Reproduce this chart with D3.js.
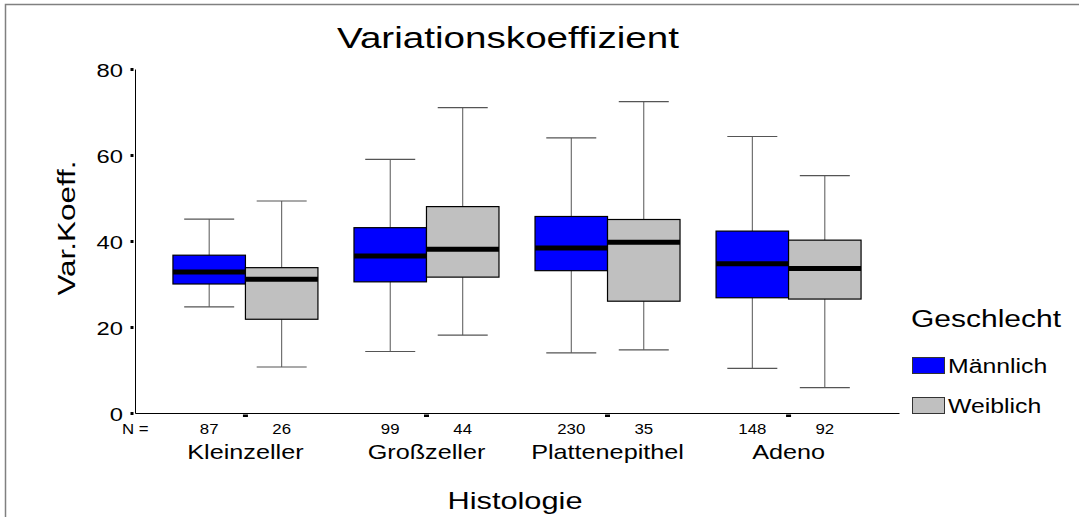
<!DOCTYPE html>
<html>
<head>
<meta charset="utf-8">
<script src="https://cdn.jsdelivr.net/npm/d3@7"></script>
<style>
  body { margin: 0; background: #fff; }
  svg text { font-family: Arial, "Liberation Sans", sans-serif; fill: #000; }
</style>
</head>
<body>
<svg id="chart"></svg>
<script>
"use strict";
// data
const categories = ["Kleinzeller", "Großzeller", "Plattenepithel", "Adeno"];
const groups = ["Männlich", "Weiblich"];
const groupColors = ["#0000ff", "#c0c0c0"];
const yTicks = [0, 20, 40, 60, 80];

const maleN    = [87, 99, 230, 148];
const maleLow  = [24.7, 14.3, 14.0, 10.4];
const maleQ1   = [30.0, 30.5, 33.1, 26.8];
const maleMed  = [32.8, 36.5, 38.4, 34.7];
const maleQ3   = [36.7, 43.1, 45.7, 42.3];
const maleHigh = [45.1, 59.0, 64.0, 64.3];

const femaleN    = [26, 44, 35, 92];
const femaleLow  = [10.7, 18.1, 14.7, 5.9];
const femaleQ1   = [21.8, 31.6, 26.0, 26.5];
const femaleMed  = [31.1, 38.1, 39.7, 33.6];
const femaleQ3   = [33.8, 48.0, 45.0, 40.2];
const femaleHigh = [49.3, 71.0, 72.4, 55.2];

const width = 1079, height = 517;
const plot = {left: 135, right: 899, top: 69, bottom: 413};

// one row per box
const boxes = [];
categories.forEach((c, i) => {
    boxes.push({cat: c, grp: groups[0], n: maleN[i], low: maleLow[i], q1: maleQ1[i],
        med: maleMed[i], q3: maleQ3[i], high: maleHigh[i]});
    boxes.push({cat: c, grp: groups[1], n: femaleN[i], low: femaleLow[i], q1: femaleQ1[i],
        med: femaleMed[i], q3: femaleQ3[i], high: femaleHigh[i]});
});

// the original font is drawn wide: stretch glyphs along the baseline
function stretch(sel, k) {
    sel.each(function() {
        const w = this.getComputedTextLength();
        d3.select(this)
            .attr("textLength", w * k)
            .attr("lengthAdjust", "spacingAndGlyphs");
    });
}

const svg = d3.select("#chart")
    .attr("width", width)
    .attr("height", height);

// outer frame (runs off the right and bottom edge)
svg.append("rect")
    .attr("x", 5.5).attr("y", 4.5)
    .attr("width", 1200).attr("height", 600)
    .attr("fill", "none")
    .attr("stroke", "#808080")
    .attr("stroke-width", 1.5);

const x = d3.scaleBand()
    .domain(categories)
    .range([plot.left, plot.right])
    .paddingInner(0)
    .paddingOuter(0.11);

const xg = d3.scaleBand()
    .domain(groups)
    .range([-72.5, 72.5]);

const color = d3.scaleOrdinal().domain(groups).range(groupColors);

const y = d3.scaleLinear()
    .domain([0, 80])
    .range([plot.bottom, plot.top]);

const cx = d => x(d.cat) + x.bandwidth() / 2 + xg(d.grp) + xg.bandwidth() / 2;

// y axis
const yAxis = svg.append("g")
    .attr("transform", `translate(${plot.left},0)`)
    .call(d3.axisLeft(y).tickValues(yTicks).tickSize(4).tickSizeOuter(0).tickPadding(10));
yAxis.select(".domain").attr("stroke", "#000");
yAxis.selectAll(".tick line")
    .attr("x1", -1.5).attr("x2", -4.5)
    .attr("stroke", "#000").attr("stroke-width", 3);
yAxis.selectAll(".tick text")
    .attr("x", -12)
    .attr("dy", "0.38em")
    .attr("font-family", null)
    .style("font-size", "19px")
    .call(stretch, 1.25);

// x axis
const xAxis = svg.append("g")
    .attr("transform", `translate(0,${plot.bottom})`)
    .call(d3.axisBottom(x).tickSize(3).tickSizeOuter(0));
xAxis.select(".domain").attr("stroke", "#000");
xAxis.selectAll(".tick line")
    .attr("y1", 1.5).attr("y2", 4)
    .attr("stroke", "#000").attr("stroke-width", 5);
xAxis.selectAll(".tick text")
    .attr("y", 46).attr("dy", 0)
    .attr("font-family", null)
    .style("font-size", "21px")
    .call(stretch, 1.2);

// boxes
const bw = xg.bandwidth();
const capW = 50;
const g = svg.append("g").selectAll("g.box")
    .data(boxes)
  .enter().append("g")
    .attr("class", "box");

g.append("line") // upper whisker
    .attr("x1", cx).attr("x2", cx)
    .attr("y1", d => y(d.q3)).attr("y2", d => y(d.high))
    .attr("stroke", "#555");
g.append("line")
    .attr("x1", d => cx(d) - capW / 2).attr("x2", d => cx(d) + capW / 2)
    .attr("y1", d => y(d.high)).attr("y2", d => y(d.high))
    .attr("stroke", "#555").attr("stroke-width", 1.2);
g.append("line") // lower whisker
    .attr("x1", cx).attr("x2", cx)
    .attr("y1", d => y(d.q1)).attr("y2", d => y(d.low))
    .attr("stroke", "#555");
g.append("line")
    .attr("x1", d => cx(d) - capW / 2).attr("x2", d => cx(d) + capW / 2)
    .attr("y1", d => y(d.low)).attr("y2", d => y(d.low))
    .attr("stroke", "#555").attr("stroke-width", 1.2);

g.append("rect")
    .attr("x", d => cx(d) - bw / 2)
    .attr("y", d => y(d.q3))
    .attr("width", bw)
    .attr("height", d => y(d.q1) - y(d.q3))
    .attr("fill", d => color(d.grp))
    .attr("stroke", "#000")
    .attr("stroke-width", 1.2);

g.append("line") // median
    .attr("x1", d => cx(d) - bw / 2).attr("x2", d => cx(d) + bw / 2)
    .attr("y1", d => y(d.med)).attr("y2", d => y(d.med))
    .attr("stroke", "#000").attr("stroke-width", 5);

// N row
svg.append("text")
    .attr("x", 122).attr("y", 434)
    .style("font-size", "14px")
    .text("N =")
    .call(stretch, 1.2);
svg.selectAll("text.n")
    .data(boxes)
  .enter().append("text")
    .attr("class", "n")
    .attr("x", cx)
    .attr("y", 434)
    .attr("text-anchor", "middle")
    .style("font-size", "14px")
    .text(d => d.n)
    .call(stretch, 1.2);

// titles
svg.append("text")
    .attr("x", 508).attr("y", 48)
    .attr("text-anchor", "middle")
    .attr("textLength", 342).attr("lengthAdjust", "spacingAndGlyphs")
    .style("font-size", "29px")
    .text("Variationskoeffizient");

svg.append("text")
    .attr("x", 515).attr("y", 509)
    .attr("text-anchor", "middle")
    .attr("textLength", 135).attr("lengthAdjust", "spacingAndGlyphs")
    .style("font-size", "24px")
    .text("Histologie");

svg.append("text")
    .attr("transform", "translate(75,228) rotate(-90)")
    .attr("text-anchor", "middle")
    .attr("textLength", 135).attr("lengthAdjust", "spacingAndGlyphs")
    .style("font-size", "23px")
    .text("Var.Koeff.");

// legend
const legend = svg.append("g");
legend.append("text")
    .attr("x", 911).attr("y", 327)
    .attr("textLength", 150).attr("lengthAdjust", "spacingAndGlyphs")
    .style("font-size", "23px")
    .text("Geschlecht");
const item = legend.selectAll("g.item")
    .data(groups)
  .enter().append("g")
    .attr("class", "item")
    .attr("transform", (d, i) => `translate(912,${357 + i * 40})`);
item.append("rect")
    .attr("x", 0.5).attr("y", 0.5)
    .attr("width", 32).attr("height", 16)
    .attr("fill", d => color(d))
    .attr("stroke", "#333");
item.append("text")
    .attr("x", 36).attr("y", 15.5)
    .style("font-size", "20px")
    .text(d => d)
    .call(stretch, 1.24);
</script>
</body>
</html>
